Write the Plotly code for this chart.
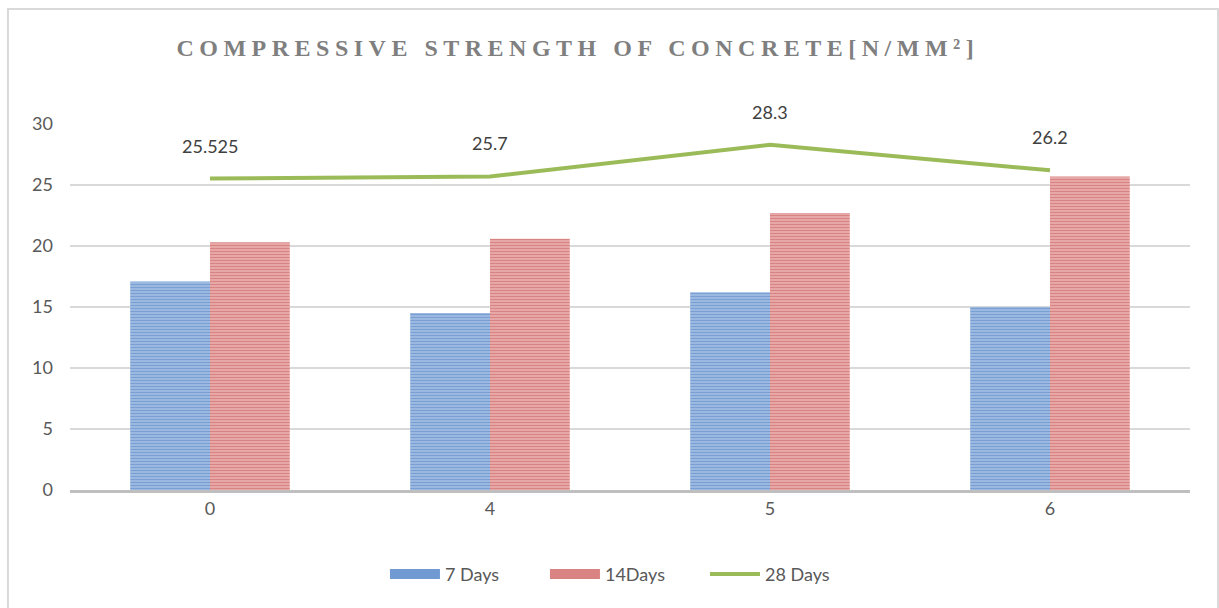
import plotly.graph_objects as go

categories = ["0", "4", "5", "6"]
days7 = [17.1, 14.5, 16.2, 15.0]
days14 = [20.3, 20.6, 22.7, 25.7]
days28 = [25.525, 25.7, 28.3, 26.2]
labels28 = ["25.525", "25.7", "28.3", "26.2"]

title_text = "COMPRESSIVE STRENGTH OF CONCRETE[N/MM²]"

BLUE_FG, BLUE_BG = "#4a7cc0", "#a9c3e6"
RED_FG, RED_BG = "#c0504d", "#efb8b7"

fig = go.Figure()
fig.add_trace(go.Bar(
    x=categories, y=days7, name="7 Days", showlegend=False,
    marker=dict(color=BLUE_BG, line=dict(width=0),
                pattern=dict(shape="-", fgcolor=BLUE_FG, bgcolor=BLUE_BG,
                             size=3, solidity=0.55)),
))
fig.add_trace(go.Bar(
    x=categories, y=days14, name="14Days", showlegend=False,
    marker=dict(color=RED_BG, line=dict(width=0),
                pattern=dict(shape="-", fgcolor=RED_FG, bgcolor=RED_BG,
                             size=3, solidity=0.55)),
))
fig.add_trace(go.Scatter(
    x=categories, y=days28, name="28 Days", mode="lines", showlegend=False,
    line=dict(color="#9bbb59", width=4),
))

# legend swatches
fig.add_trace(go.Scatter(x=[None], y=[None], mode="lines", name="7 Days",
                         line=dict(color="#7199d2", width=10)))
fig.add_trace(go.Scatter(x=[None], y=[None], mode="lines", name="14Days",
                         line=dict(color="#d98483", width=10)))
fig.add_trace(go.Scatter(x=[None], y=[None], mode="lines", name="28 Days",
                         line=dict(color="#9bbb59", width=4)))

for i, (v, t) in enumerate(zip(days28, labels28)):
    fig.add_annotation(x=i, y=v, text=t, showarrow=False, yshift=33,
                       font=dict(family="Lato, Open Sans, sans-serif", size=18, color="#404040"))

fig.add_shape(type="rect", xref="paper", yref="paper",
              x0=-0.0554, x1=1.025, y0=-0.5, y1=1.314,
              line=dict(color="#d9d9d9", width=2), fillcolor="rgba(0,0,0,0)", layer="below")

fig.update_layout(
    width=1219, height=608,
    margin=dict(l=70, r=29, t=124, b=118, pad=0),
    paper_bgcolor="white", plot_bgcolor="white",
    barmode="group", bargap=0.43, bargroupgap=0,
    title=dict(text=title_text, x=0.474, xanchor="center", y=0.922, yanchor="middle",
               font=dict(family="Liberation Serif, Times New Roman, serif", size=24,
                         color="#7f7f7f", weight="bold")),
    font=dict(family="Lato, Open Sans, sans-serif", size=18, color="#595959"),
    xaxis=dict(type="category", range=[-0.5, 3.5], showgrid=False, showline=True,
               linecolor="#bfbfbf", linewidth=3, ticks="",
               tickfont=dict(size=18, color="#595959")),
    yaxis=dict(range=[0, 30], dtick=5, showgrid=True, gridcolor="#d9d9d9", gridwidth=2,
               zeroline=False, showline=False, ticks="", ticklabelstandoff=16,
               tickfont=dict(size=18, color="#595959")),
    legend=dict(orientation="h", x=0.4955, xanchor="center", y=-0.18, yanchor="top",
                font=dict(size=18, color="#595959"), itemwidth=50,
                entrywidth=95, entrywidthmode="pixels"),
    showlegend=True,
)

post = """
document.body.style.margin = '0';
var t = document.querySelectorAll('.gtitle');
t.forEach(function(e){ e.setAttribute('letter-spacing', '5.5px'); });
"""
fig.write_html("out.html", post_script=post, config={"displayModeBar": False})
